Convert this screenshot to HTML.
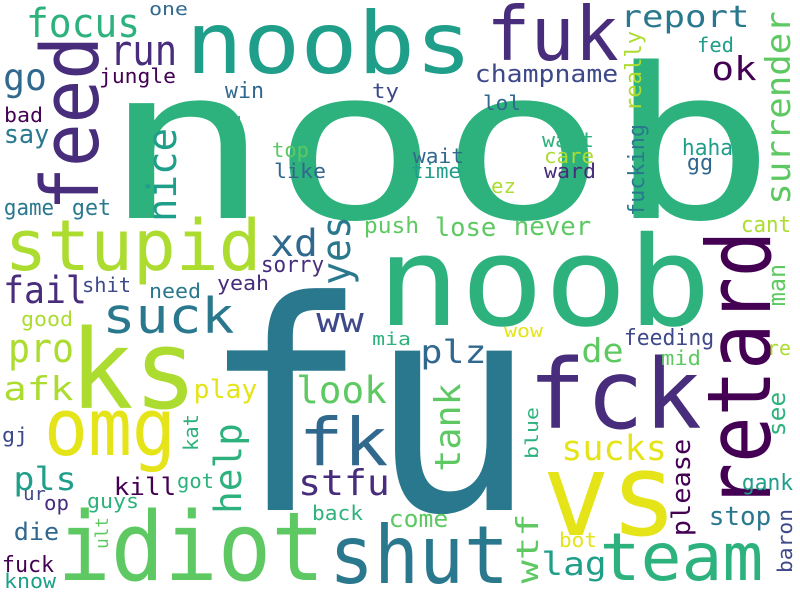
<!DOCTYPE html>
<html>
<head>
<meta charset="utf-8">
<style>
  html,body{margin:0;padding:0;background:#fff;}
  svg{display:block;}
  text{font-family:"DejaVu Sans Mono","Liberation Mono",monospace;}
</style>
</head>
<body>
<svg id="cloud" width="800" height="600" viewBox="0 0 800 600">
  <rect width="800" height="600" fill="#ffffff"/>
</svg>
<script>
const palette = ["#440154","#472d7b","#3e4989","#31688e","#2a788e","#1f9e89","#2db27d","#5ec962","#addc30","#e5e419"];
// horizontal words: word, left, right, baseline, fontSize, colorIndex
const hWords = [
["focus",28,138,37,40,6],["one",150,187,15,18,3],["noobs",190,468,73,86,5],["fuk",490,615,60,75,1],
["report",622,748,27,30,4],["run",112,175,65,42,1],["go",5,45,90,37,3],["jungle",100,175,83,20,0],
["win",226,263,98,22,3],["ty",373,398,98,20,2],["bad",5,42,122,20,0],["say",5,48,143,26,4],
["top",273,308,157,20,7],["like",275,325,178,20,3],["game",5,53,215,22,4],["get",73,110,215,22,4],
["champname",476,617,82,24,2],["fed",698,733,52,20,5],["ok",713,755,80,33,0],["lol",484,520,110,20,3],
["want",543,593,147,20,6],["care",545,593,163,20,8],["ward",545,595,178,20,1],["wait",414,463,163,20,3],
["time",412,460,178,20,5],["ez",492,515,193,20,8],["haha",683,732,155,22,5],["gg",688,712,170,22,3],
["stupid",8,258,270,70,8],["xd",272,316,256,37,3],["push",365,418,233,22,7],["lose",436,495,236,26,7],
["never",515,590,235,26,7],["cant",742,790,232,22,8],["noob",113,765,218,210,6],["noob",383,705,325,124,6],
["sorry",262,323,272,22,1],["fail",5,85,303,37,1],["shit",83,130,292,20,2],["need",150,200,298,20,4],
["yeah",218,268,290,20,1],["suck",105,232,333,49,4],["ww",318,362,332,35,2],["good",22,72,326,20,8],
["ks",75,192,408,110,8],["pro",10,72,362,40,8],["afk",5,72,400,33,8],["omg",48,172,455,79,9],
["play",195,256,398,26,9],["look",298,385,403,37,7],["fk",302,385,465,66,3],["gj",3,27,442,20,2],
["pls",15,75,490,32,5],["stfu",300,388,495,36,1],["kill",115,175,495,24,0],["got",178,213,488,20,6],
["ur",24,45,500,18,2],["op",45,68,510,20,1],["guys",88,138,508,20,6],["back",313,362,520,20,6],
["die",15,58,540,24,3],["idiot",62,320,580,95,7],["fuck",3,53,572,22,0],["know",5,55,588,20,5],
["shut",333,505,583,80,4],["come",390,447,527,24,7],["mia",373,410,345,18,6],["fu",215,522,510,292,4],
["plz",422,485,363,32,3],["wow",505,542,337,18,9],["de",583,622,362,33,7],["feeding",625,713,345,22,2],
["mid",662,700,365,20,7],["re",768,790,355,20,8],["fck",533,697,428,96,1],["sucks",563,665,460,35,9],
["vs",548,672,535,115,9],["gank",743,792,490,22,5],["stop",710,770,525,26,4],["bot",560,596,547,20,9],
["lag",543,605,575,32,5],["team",603,760,580,66,6]
];
// vertical words: word, baselineX, bottomY, topY, fontSize, colorIndex
const vWords = [
["feed",98,207,40,79,1],["nice",176,220,130,40,5],["first",240,175,115,22,6],["yes",350,283,218,40,4],
["surrender",790,203,13,34,7],["really",641,110,32,22,8],["fucking",644,215,125,22,4],["man",785,305,265,24,7],
["retard",770,505,235,88,0],["tank",460,470,385,36,7],["blue",538,458,408,18,6],["see",785,435,393,24,6],
["please",690,535,440,26,0],["baron",792,572,510,20,2],["wtf",538,582,515,30,7],["help",241,512,425,37,6],
["kat",198,450,415,20,6],["ult",108,548,518,18,7]
];
const svg = document.getElementById('cloud');
const NS = "http://www.w3.org/2000/svg";
const items = [];
hWords.forEach(w => items.push({w: w, v: false, fs: w[4]}));
vWords.forEach(w => items.push({w: w, v: true, fs: w[4]}));
items.sort((a, b) => b.fs - a.fs);
items.forEach(it => {
  const w = it.w;
  const fs = w[4];
  const t = document.createElementNS(NS, 'text');
  if (!it.v) {
    t.setAttribute('x', (w[1] - 0.05*fs).toFixed(1));
    t.setAttribute('y', w[3]);
    t.setAttribute('textLength', (w[2] - w[1] + 0.1*fs).toFixed(1));
  } else {
    t.setAttribute('x', 0);
    t.setAttribute('y', 0);
    t.setAttribute('transform', 'translate(' + w[1] + ',' + (w[2] + 0.05*fs).toFixed(1) + ') rotate(-90)');
    t.setAttribute('textLength', (w[2] - w[3] + 0.1*fs).toFixed(1));
  }
  t.setAttribute('font-size', fs);
  t.setAttribute('lengthAdjust', 'spacingAndGlyphs');
  t.setAttribute('fill', palette[w[5]]);
  
  
  t.textContent = w[0];
  svg.appendChild(t);
});
</script>
</body>
</html>
